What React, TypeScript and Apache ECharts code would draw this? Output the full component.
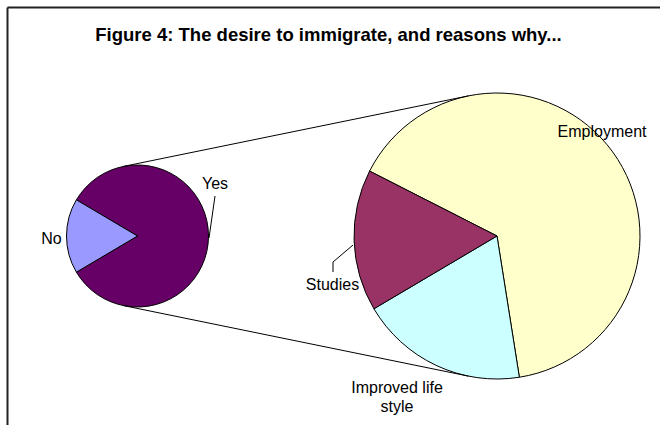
import React, { useEffect, useRef } from 'react';
import * as echarts from 'echarts';

const titleText = 'Figure 4: The desire to immigrate, and reasons why...';
const mainNames = ['Yes', 'No'];
const mainValues = [83, 17];
const reasonNames = ['Employment', 'Improved life style', 'Studies'];
const reasonValues = [65, 19, 16];
const mainColors = ['#660066', '#9999FF'];
const reasonColors = ['#FFFFCC', '#CCFFFF', '#993366'];

export default function App() {
  const ref = useRef<HTMLDivElement>(null);
  useEffect(() => {
    const chart = echarts.init(ref.current as HTMLDivElement, null, { renderer: 'svg' });
    const c1 = [137.5, 236];
    const r1 = 71;
    const c2 = [497, 236];
    const r2 = 143;
    const d = c2[0] - c1[0];
    const s = (r2 - r1) / d;
    const c = Math.sqrt(1 - s * s);
    const topA = [c1[0] - r1 * s, c1[1] - r1 * c];
    const topB = [c2[0] - r2 * s, c2[1] - r2 * c];
    const botA = [c1[0] - r1 * s, c1[1] + r1 * c];
    const botB = [c2[0] - r2 * s, c2[1] + r2 * c];
    const font = "16px 'Liberation Sans', Arial, sans-serif";
    const lineStyle = { stroke: '#000', lineWidth: 1 };
    const txt = (text: string, x: number, y: number, align = 'center') => ({
      type: 'text',
      x,
      y,
      z: 100,
      silent: true,
      style: { text, align, verticalAlign: 'middle', font, fill: '#000', lineHeight: 19 },
    });
    const mainStart = 180 - (mainValues[1] / (mainValues[0] + mainValues[1])) * 180;
    chart.setOption({
      animation: false,
      backgroundColor: '#fff',
      series: [
        {
          type: 'pie',
          center: c1,
          radius: r1,
          startAngle: mainStart,
          silent: true,
          label: { show: false },
          labelLine: { show: false },
          itemStyle: { borderColor: '#000', borderWidth: 1 },
          data: mainNames.map((n, i) => ({ name: n, value: mainValues[i], itemStyle: { color: mainColors[i] } })),
        },
        {
          type: 'pie',
          center: c2,
          radius: r2,
          startAngle: 153,
          silent: true,
          label: { show: false },
          labelLine: { show: false },
          itemStyle: { borderColor: '#000', borderWidth: 1 },
          data: reasonNames.map((n, i) => ({ name: n, value: reasonValues[i], itemStyle: { color: reasonColors[i] } })),
        },
      ],
      graphic: [
        { type: 'line', z: 100, silent: true, shape: { x1: 7.5, y1: 7.5, x2: 660, y2: 7.5 }, style: { stroke: '#222', lineWidth: 2 } },
        { type: 'line', z: 100, silent: true, shape: { x1: 7.5, y1: 7.5, x2: 7.5, y2: 425 }, style: { stroke: '#222', lineWidth: 2 } },
        {
          type: 'text',
          x: 328.5,
          y: 34,
          z: 100,
          silent: true,
          style: { text: titleText, align: 'center', verticalAlign: 'middle', font: "bold 18.5px 'Liberation Sans', Arial, sans-serif", fill: '#000' },
        },
        { type: 'line', z: 100, silent: true, shape: { x1: topA[0], y1: topA[1], x2: topB[0], y2: topB[1] }, style: lineStyle },
        { type: 'line', z: 100, silent: true, shape: { x1: botA[0], y1: botA[1], x2: botB[0], y2: botB[1] }, style: lineStyle },
        { type: 'line', z: 100, silent: true, shape: { x1: 209, y1: 238, x2: 215, y2: 196 }, style: lineStyle },
        { type: 'polyline', z: 100, silent: true, shape: { points: [[353, 245], [333, 262], [333, 272]] }, style: { ...lineStyle, fill: 'none' } },
        txt(mainNames[0], 215, 183),
        txt(mainNames[1], 51.5, 238),
        txt(reasonNames[0], 602, 131),
        txt(reasonNames[2], 332.5, 284.5),
        txt(reasonNames[1].replace(' style', '\nstyle'), 397, 397),
      ],
    });
    return () => chart.dispose();
  }, []);
  return <div ref={ref} style={{ position: 'fixed', left: 0, top: 0, width: 660, height: 425, background: '#fff' }} />;
}
